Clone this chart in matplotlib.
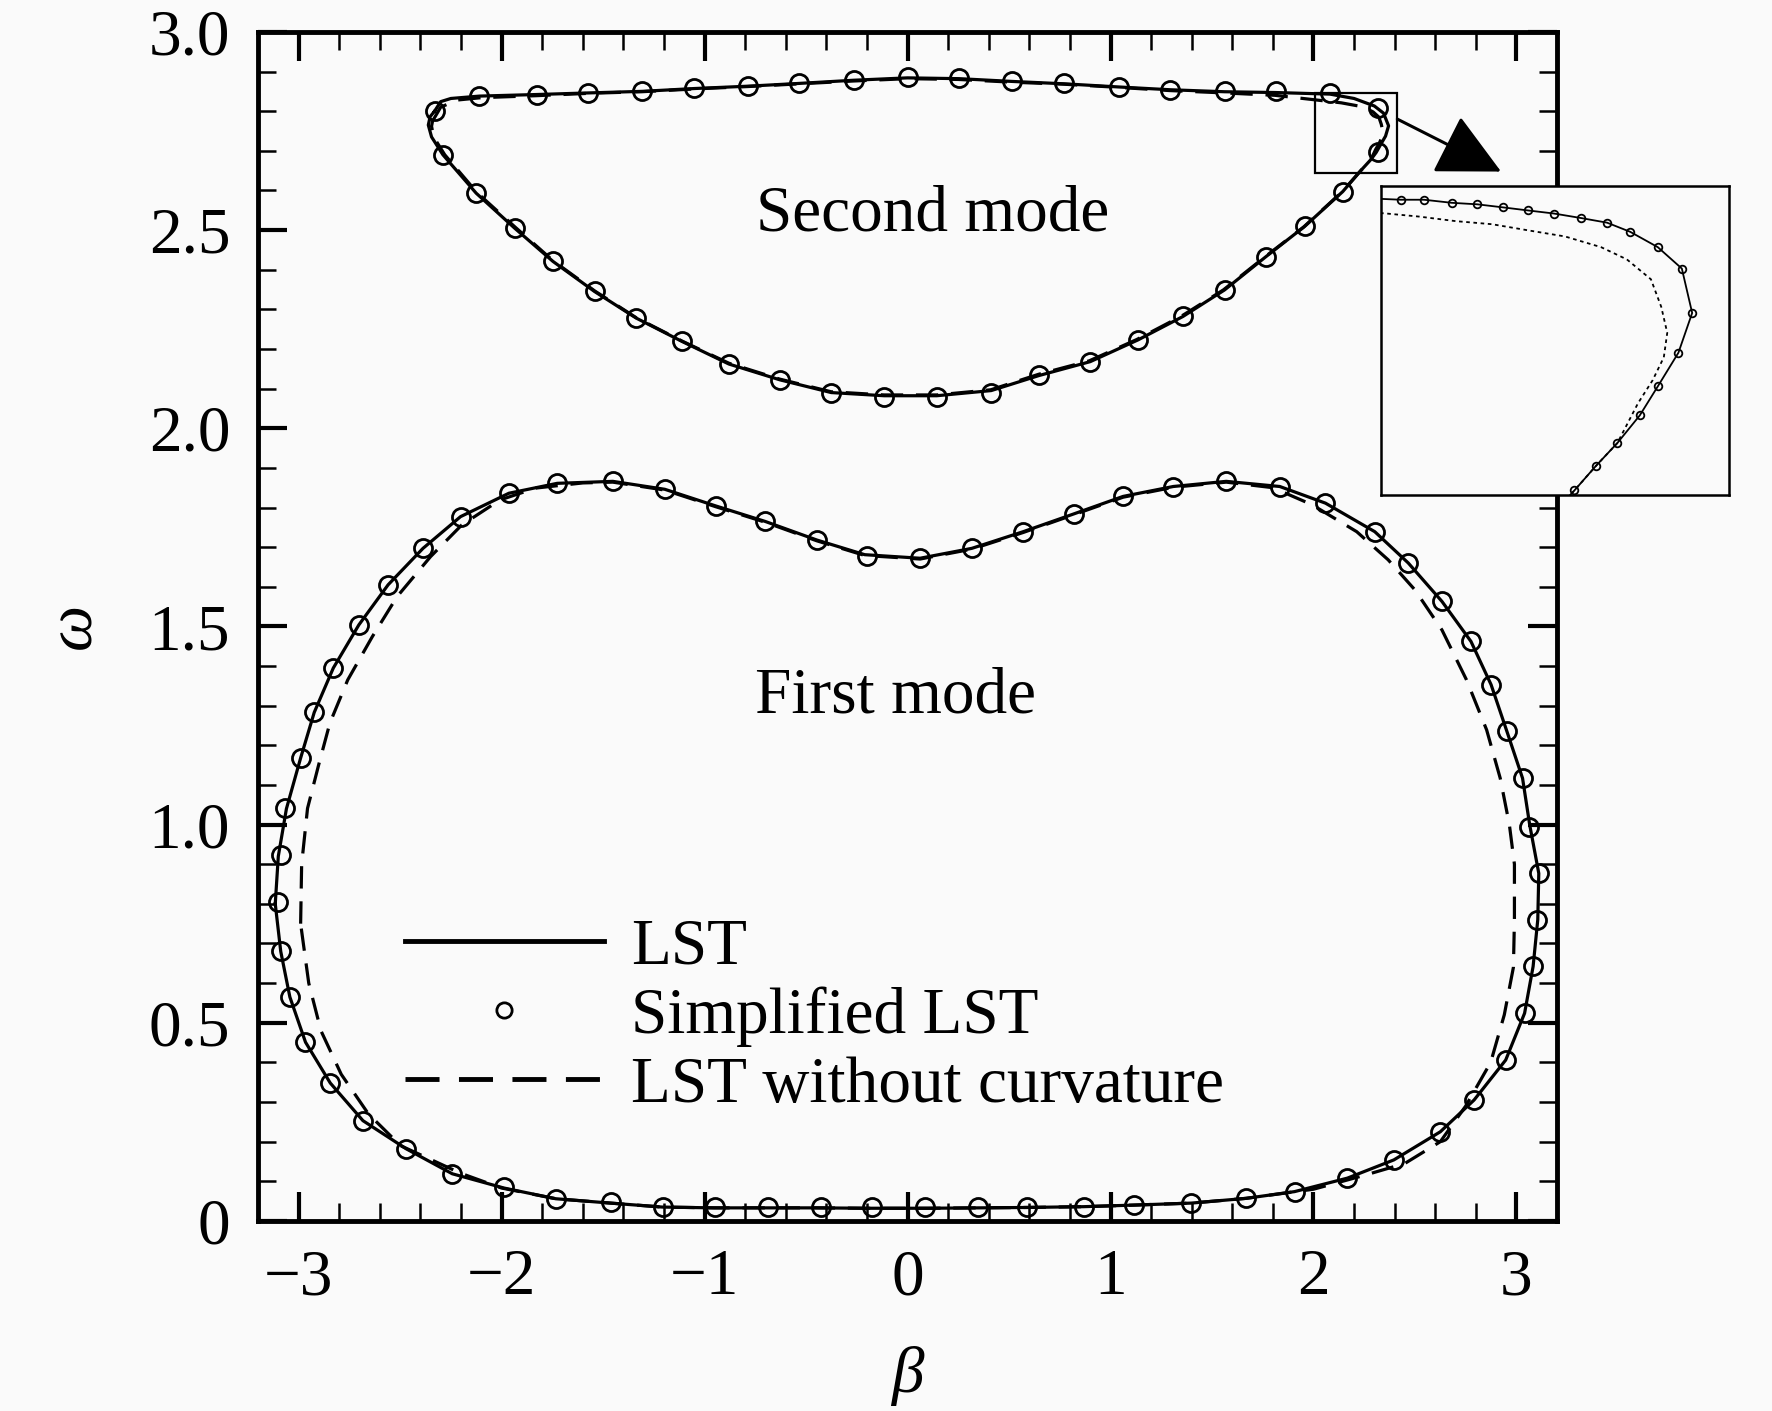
import numpy as np
import matplotlib
matplotlib.use("Agg")
import matplotlib.pyplot as plt
from matplotlib.lines import Line2D
from matplotlib.patches import Rectangle
from matplotlib.ticker import MultipleLocator, FuncFormatter

plt.rcParams["font.family"] = ["Liberation Serif", "DejaVu Serif"]
plt.rcParams["axes.unicode_minus"] = True

# ---------------- data (beta, omega) ----------------
# second mode, LST (closed neutral curve)
m2_lst_beta = [-2.330, -2.300, -2.250, -2.109, -1.826, -1.573, -1.306, -1.054, -0.786, -0.534, -0.266,
               0.000, 0.254, 0.515, 0.773, 1.042, 1.294, 1.562, 1.814, 2.081, 2.200, 2.300, 2.345, 2.370,
               2.355, 2.330, 2.309, 2.283, 2.233, 2.144, 1.956, 1.766, 1.562, 1.357, 1.136, 0.900, 0.648,
               0.412, 0.144, -0.115, -0.376, -0.628, -0.880, -1.111, -1.337, -1.542, -1.747, -1.936,
               -2.125, -2.289, -2.345, -2.361, -2.352, -2.330]
m2_lst_omega = [2.800, 2.824, 2.832, 2.838, 2.842, 2.846, 2.850, 2.857, 2.863, 2.870, 2.878,
                2.884, 2.882, 2.875, 2.869, 2.861, 2.854, 2.849, 2.847, 2.843, 2.832, 2.813, 2.795, 2.763,
                2.737, 2.715, 2.696, 2.678, 2.650, 2.597, 2.509, 2.433, 2.349, 2.282, 2.223, 2.168, 2.133,
                2.095, 2.082, 2.082, 2.090, 2.122, 2.162, 2.219, 2.278, 2.345, 2.421, 2.505,
                2.593, 2.690, 2.735, 2.765, 2.786, 2.800]

# second mode, simplified LST
m2_simp_beta = [-2.330, -2.109, -1.826, -1.573, -1.306, -1.054, -0.786, -0.534, -0.266, 0.000, 0.254,
                0.515, 0.773, 1.042, 1.294, 1.562, 1.814, 2.081, 2.318, 2.318, 2.144, 1.956, 1.766,
                1.562, 1.357, 1.136, 0.900, 0.648, 0.412, 0.144, -0.115, -0.376, -0.628, -0.880,
                -1.111, -1.337, -1.542, -1.747, -1.936, -2.125, -2.289]
m2_simp_omega = [2.800, 2.837, 2.841, 2.846, 2.850, 2.858, 2.864, 2.871, 2.879, 2.885, 2.883,
                 2.875, 2.871, 2.862, 2.854, 2.850, 2.850, 2.846, 2.808, 2.697, 2.597, 2.509, 2.433,
                 2.349, 2.282, 2.223, 2.168, 2.135, 2.089, 2.080, 2.080, 2.089, 2.122, 2.162,
                 2.219, 2.278, 2.345, 2.421, 2.505, 2.593, 2.690]

# second mode, LST without curvature
m2_nc_beta = [-2.340, -2.300, -2.220, -2.100, -1.830, -1.570, -1.310, -1.050, -0.790, -0.530, -0.270,
              0.000, 0.250, 0.520, 0.770, 1.040, 1.290, 1.560, 1.810, 2.052, 2.137, 2.222, 2.264, 2.294,
              2.322, 2.334, 2.341, 2.337, 2.324, 2.307, 2.283, 2.233, 2.140, 1.950, 1.760, 1.556, 1.350,
              1.130, 0.895, 0.645, 0.410, 0.144, -0.115, -0.376, -0.630, -0.880, -1.111, -1.337, -1.540,
              -1.745, -1.930, -2.120, -2.280, -2.335, -2.345, -2.340]
m2_nc_omega = [2.775, 2.810, 2.828, 2.834, 2.839, 2.845, 2.849, 2.856, 2.862, 2.869, 2.876,
               2.882, 2.880, 2.873, 2.868, 2.860, 2.852, 2.846, 2.840, 2.826, 2.821, 2.813, 2.806, 2.798,
               2.785, 2.767, 2.750, 2.734, 2.719, 2.704, 2.678, 2.650, 2.596, 2.507, 2.432, 2.349, 2.283,
               2.224, 2.170, 2.136, 2.097, 2.084, 2.084, 2.092, 2.124, 2.164, 2.220, 2.279, 2.346,
               2.422, 2.506, 2.594, 2.690, 2.735, 2.762, 2.775]

# first mode, LST
m1_lst_beta = [-3.115, -3.100, -3.060, -2.990, -2.923, -2.829, -2.703, -2.559, -2.387, -2.202, -1.964,
               -1.726, -1.452, -1.196, -0.945, -0.702, -0.447, -0.211, 0.062, 0.317, 0.570, 0.820, 1.062,
               1.309, 1.570, 1.834, 2.059, 2.302, 2.467, 2.633, 2.776, 2.875, 2.953, 3.030, 3.065, 3.110,
               3.105, 3.082, 3.040, 2.947, 2.791, 2.625, 2.396, 2.167, 1.907, 1.668, 1.398, 1.117, 0.868,
               0.587, 0.348, 0.100, -0.200, -0.450, -0.700, -0.953, -1.208, -1.463, -1.733, -1.988,
               -2.243, -2.470, -2.683, -2.844, -2.966, -3.043, -3.088, -3.115]
m1_lst_omega = [0.800, 0.920, 1.040, 1.168, 1.283, 1.395, 1.504, 1.605, 1.697, 1.777, 1.836,
                1.861, 1.866, 1.846, 1.804, 1.765, 1.718, 1.681, 1.672, 1.697, 1.739, 1.784, 1.828,
                1.853, 1.866, 1.853, 1.811, 1.739, 1.660, 1.563, 1.462, 1.353, 1.235, 1.117, 1.000, 0.877,
                0.760, 0.642, 0.524, 0.406, 0.305, 0.225, 0.154, 0.108, 0.074, 0.057, 0.045, 0.040, 0.036,
                0.034, 0.033, 0.032, 0.032, 0.033, 0.033, 0.033, 0.035, 0.045, 0.056, 0.083,
                0.119, 0.182, 0.253, 0.348, 0.451, 0.565, 0.680, 0.800]

# first mode, simplified LST
m1_simp_beta = [-3.067, -2.990, -2.923, -2.829, -2.703, -2.559, -2.387, -2.202, -1.964, -1.726, -1.452,
                -1.196, -0.945, -0.702, -0.447, -0.202, 0.063, 0.317, 0.570, 0.820, 1.062, 1.309, 1.570,
                1.834, 2.059, 2.302, 2.467, 2.633, 2.776, 2.875, 2.953, 3.030, 3.061, 3.113, 3.103, 3.082,
                3.040, 2.947, 2.791, 2.625, 2.396, 2.167, 1.907, 1.668, 1.398, 1.117, 0.868, 0.587, 0.348,
                0.084, -0.173, -0.424, -0.686, -0.949, -1.205, -1.463, -1.733, -1.988, -2.243, -2.470,
                -2.683, -2.844, -2.966, -3.043, -3.088, -3.100, -3.088]
m1_simp_omega = [1.041, 1.168, 1.283, 1.395, 1.504, 1.605, 1.697, 1.777, 1.836, 1.861, 1.866,
                 1.846, 1.804, 1.765, 1.718, 1.678, 1.672, 1.697, 1.739, 1.784, 1.828, 1.853, 1.866,
                 1.853, 1.811, 1.739, 1.660, 1.563, 1.462, 1.353, 1.235, 1.117, 0.995, 0.877, 0.760, 0.642,
                 0.524, 0.406, 0.305, 0.225, 0.154, 0.108, 0.074, 0.057, 0.045, 0.040, 0.036, 0.036, 0.036,
                 0.036, 0.036, 0.036, 0.036, 0.036, 0.036, 0.047, 0.056, 0.085, 0.119, 0.182,
                 0.253, 0.348, 0.451, 0.565, 0.680, 0.805, 0.923]

# first mode, LST without curvature
m1_nc_beta = [-2.990, -2.985, -2.956, -2.901, -2.846, -2.758, -2.637, -2.515, -2.350, -2.196, -2.008,
              -1.832, -1.600, -1.452, -1.196, -0.945, -0.702, -0.447, -0.211, 0.062, 0.317, 0.570, 0.820,
              1.062, 1.309, 1.570, 1.800, 1.993, 2.213, 2.368, 2.500, 2.633, 2.754, 2.853, 2.920, 2.965,
              2.990, 2.990, 2.985, 2.940, 2.873, 2.750, 2.625, 2.450, 2.250, 2.000, 1.668, 1.398, 1.117,
              0.868, 0.587, 0.348, 0.100, -0.200, -0.450, -0.700, -0.953, -1.208, -1.463, -1.733,
              -2.000, -2.200, -2.498, -2.656, -2.790, -2.890, -2.950, -2.990]
m1_nc_omega = [0.750, 0.900, 1.041, 1.151, 1.256, 1.365, 1.474, 1.575, 1.676, 1.756, 1.819,
               1.849, 1.862, 1.864, 1.844, 1.802, 1.763, 1.716, 1.679, 1.670, 1.695, 1.737, 1.782,
               1.826, 1.851, 1.864, 1.850, 1.807, 1.739, 1.668, 1.592, 1.491, 1.365, 1.239, 1.117, 1.000,
               0.900, 0.760, 0.640, 0.520, 0.400, 0.290, 0.200, 0.145, 0.115, 0.080, 0.057, 0.045, 0.040,
               0.036, 0.034, 0.033, 0.032, 0.032, 0.033, 0.033, 0.033, 0.035, 0.045, 0.056,
               0.083, 0.120, 0.190, 0.270, 0.370, 0.480, 0.600, 0.750]

# enlarged view of the second mode near its right end
inset_simp_beta = [1.990, 2.031, 2.058, 2.090, 2.120, 2.150, 2.179, 2.209, 2.241, 2.271, 2.298, 2.330,
                   2.358, 2.370, 2.354, 2.330, 2.309, 2.283, 2.258, 2.233, 2.205]
inset_simp_omega = [2.838, 2.837, 2.837, 2.835, 2.834, 2.832, 2.830, 2.828, 2.825, 2.822, 2.816, 2.806,
                    2.792, 2.763, 2.737, 2.715, 2.696, 2.678, 2.663, 2.647, 2.630]
inset_nc_beta = [1.990, 2.014, 2.052, 2.095, 2.137, 2.179, 2.222, 2.264, 2.294, 2.322, 2.334, 2.341,
                 2.337, 2.324, 2.307, 2.283, 2.258, 2.233, 2.205]
inset_nc_omega = [2.829, 2.828, 2.826, 2.823, 2.821, 2.817, 2.813, 2.806, 2.798, 2.785, 2.767, 2.750,
                  2.734, 2.719, 2.704, 2.678, 2.663, 2.647, 2.630]
inset_xlim = (2.008, 2.413)
inset_ylim = (2.644, 2.846)

labels = ["LST", "Simplified LST", "LST without curvature"]
fs = 47


def draw_main():
    fig = plt.figure(figsize=(17.72, 14.11), dpi=100, facecolor="#fafafa")
    ax = fig.add_axes([0.1456, 0.1347, 0.7331, 0.8427])
    ax.set_facecolor("#fafafa")

    lw = 2.3
    for b, w in [(m2_lst_beta, m2_lst_omega), (m1_lst_beta, m1_lst_omega)]:
        ax.plot(b, w, color="black", lw=lw, solid_joinstyle="round")
    for b, w in [(m2_nc_beta, m2_nc_omega), (m1_nc_beta, m1_nc_omega)]:
        ax.plot(b, w, color="black", lw=lw, ls=(0, (7, 4)))
    for b, w in [(m2_simp_beta, m2_simp_omega), (m1_simp_beta, m1_simp_omega)]:
        ax.plot(b, w, ls="none", marker="o", ms=13, mfc="none", mec="black", mew=2)

    ax.set_xlim(-3.2, 3.2)
    ax.set_ylim(0, 3.0)
    ax.xaxis.set_major_locator(MultipleLocator(1))
    ax.xaxis.set_minor_locator(MultipleLocator(0.2))
    ax.yaxis.set_major_locator(MultipleLocator(0.5))
    ax.yaxis.set_minor_locator(MultipleLocator(0.1))
    ax.yaxis.set_major_formatter(FuncFormatter(lambda v, p: "0" if abs(v) < 1e-9 else "%.1f" % v))
    ax.xaxis.set_major_formatter(FuncFormatter(lambda v, p: "%d" % round(v) if v >= 0 else "\u2212%d" % round(-v)))
    ax.tick_params(which="both", direction="in", top=True, right=True, labelsize=fs)
    ax.tick_params(which="major", length=21, width=3, pad=20)
    ax.tick_params(which="minor", length=13, width=1.8)
    for s in ax.spines.values():
        s.set_linewidth(3.5)

    ax.set_xlabel("\u03b2", fontsize=fs, fontstyle="italic")
    ax.set_ylabel("\u03c9", fontsize=fs, fontstyle="italic")
    ax.xaxis.set_label_coords(0.5, -0.105)
    ax.yaxis.set_label_coords(-0.118, 0.5)

    ax.text(0.126, 2.538, "Second mode", fontsize=fs, ha="center", va="center")
    ax.text(-0.057, 1.322, "First mode", fontsize=fs, ha="center", va="center")

    # legend
    handles = [Line2D([], [], color="black", lw=3.5),
               Line2D([], [], ls="none", marker="o", ms=11, mfc="none", mec="black", mew=2),
               Line2D([], [], color="black", lw=3.5, ls=(0, (7, 4)))]
    ax.legend(handles, labels, loc="upper left", bbox_to_anchor=(0.113, 0.255), frameon=False,
              fontsize=fs, handlelength=3.05, handletextpad=0.42, labelspacing=0.14,
              borderpad=0, borderaxespad=0)

    # box marking the enlarged region
    ax.add_patch(Rectangle((inset_xlim[0], inset_ylim[0]), inset_xlim[1] - inset_xlim[0],
                           inset_ylim[1] - inset_ylim[0], fill=False, ec="black", lw=1.6, zorder=5))

    # inset
    ins = fig.add_axes([0.7794, 0.6492, 0.1964, 0.2190])
    ins.set_facecolor("#fafafa")
    ins.plot(inset_simp_beta, inset_simp_omega, color="black", lw=1.3)
    ins.plot(inset_nc_beta, inset_nc_omega, color="black", lw=1.3, ls=(0, (2, 2)))
    ins.plot(inset_simp_beta, inset_simp_omega, ls="none", marker="o", ms=5.5, mfc="none",
             mec="black", mew=1.3)
    ins.set_xlim(*inset_xlim)
    ins.set_ylim(*inset_ylim)
    ins.set_xticks([])
    ins.set_yticks([])
    for s in ins.spines.values():
        s.set_linewidth(1.8)

    # arrow from the box to the inset
    ax.annotate("", xy=(0.8471, 0.8784), xycoords="figure fraction",
                xytext=(inset_xlim[1], 2.78), textcoords="data",
                arrowprops=dict(arrowstyle="-|>,head_length=1.0,head_width=0.5", color="black",
                                lw=2.2, mutation_scale=40, shrinkA=0, shrinkB=0),
                annotation_clip=False)

    fig.savefig("out.png", dpi=100, facecolor=fig.get_facecolor())


if __name__ == "__main__":
    draw_main()
